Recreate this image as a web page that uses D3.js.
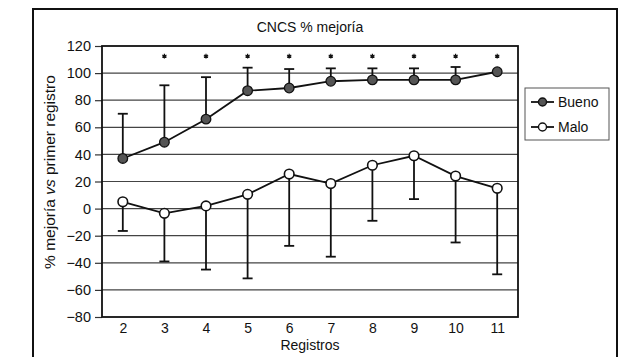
<!DOCTYPE html>
<html><head><meta charset="utf-8">
<script src="https://cdn.jsdelivr.net/npm/d3@7"></script>
<style>body{margin:0;background:#fff}svg{display:block}text{font-family:"Liberation Sans",Arial,sans-serif;fill:#111}</style>
</head><body>
<svg id="c" width="622" height="357"></svg>
<script>
const registros = [2,3,4,5,6,7,8,9,10,11];
const bueno = [37,49,66,87,89,94,95,95,95,101];
const buenoUpper = [70,91,97,104,103,103.5,103.5,103.5,104.5,null];
const malo = [5,-3.5,2,10.5,25.5,18.5,32,39,24,15];
const maloLower = [-16.5,-39,-45,-51.5,-27.5,-35.5,-9,7,-25,-48.5];
const stars = [3,4,5,6,7,8,9,10,11];
const starValue = 112.5;
const yTicks = [120,100,80,60,40,20,0,-20,-40,-60,-80];
const gridValues = [100,80,60,40,20,0,-20,-40,-60];
const title = "CNCS % mejoría";
const xTitle = "Registros";
const seriesNames = ["Bueno","Malo"];

const svg = d3.select("#c");
const L=102, R=518, T=46, B=317;
const x = d3.scaleLinear().domain([1.5,11.5]).range([L,R]);
const y = d3.scaleLinear().domain([-80,120]).range([B,T]);
const FONT = "Liberation Sans, Arial, sans-serif";

// outer frame
svg.append("rect").attr("x",33).attr("y",9).attr("width",584).attr("height",352)
  .attr("fill","none").attr("stroke","#111").attr("stroke-width",2);

// gridlines
svg.append("g").selectAll("line").data(gridValues).join("line")
  .attr("x1",L).attr("x2",R).attr("y1",d=>y(d)).attr("y2",d=>y(d))
  .attr("stroke","#444").attr("stroke-width",1.2);

// y axis
const yAxis = d3.axisLeft(y).tickValues(yTicks).tickSize(7).tickPadding(4)
  .tickFormat(d=> d<0 ? "\u2212"+Math.abs(d) : d);
const ga = svg.append("g").attr("transform",`translate(${L},0)`).call(yAxis);
ga.select(".domain").remove();
ga.selectAll("line").attr("stroke","#333").attr("stroke-width",1.2);
ga.selectAll("text").attr("font-size",14.5).attr("fill","#111").style("font-family",FONT);

// x axis labels
const xAxis = d3.axisBottom(x).tickValues(registros).tickSize(0).tickPadding(6).tickFormat(d3.format("d"));
const gx = svg.append("g").attr("transform",`translate(0,${B})`).call(xAxis);
gx.select(".domain").remove();
gx.selectAll("text").attr("font-size",14).attr("fill","#111").style("font-family",FONT);

// plot border
svg.append("rect").attr("x",L).attr("y",T).attr("width",R-L).attr("height",B-T)
  .attr("fill","none").attr("stroke","#111").attr("stroke-width",1.8);

// titles
svg.append("text").attr("x",(L+R)/2).attr("y",32).attr("text-anchor","middle").attr("font-size",14).text(title);
svg.append("text").attr("x",(L+R)/2).attr("y",350).attr("text-anchor","middle").attr("font-size",14).text(xTitle);
const yt = svg.append("text").attr("transform",`translate(55,172) rotate(-90)`).attr("text-anchor","middle").attr("font-size",15.5);
yt.append("tspan").text("% mejoría ");
yt.append("tspan").attr("font-style","italic").text("vs");
yt.append("tspan").text(" primer registro");

// error bars
const cap = 5;
const bErr = registros.map((r,i)=>({r, v:bueno[i], e:buenoUpper[i]})).filter(d=>d.e!==null);
const mErr = registros.map((r,i)=>({r, v:malo[i], e:maloLower[i]}));
const eg = svg.append("g").attr("stroke","#111").attr("stroke-width",1.8);
[...bErr, ...mErr].forEach(d=>{
  eg.append("line").attr("x1",x(d.r)).attr("x2",x(d.r)).attr("y1",y(d.v)).attr("y2",y(d.e));
  eg.append("line").attr("x1",x(d.r)-cap).attr("x2",x(d.r)+cap).attr("y1",y(d.e)).attr("y2",y(d.e));
});

// lines
const line = d3.line().x((d,i)=>x(registros[i])).y(d=>y(d));
svg.append("path").attr("d",line(bueno)).attr("fill","none").attr("stroke","#111").attr("stroke-width",1.8);
svg.append("path").attr("d",line(malo)).attr("fill","none").attr("stroke","#111").attr("stroke-width",1.8);

// markers
svg.append("g").selectAll("circle").data(bueno).join("circle")
  .attr("cx",(d,i)=>x(registros[i])).attr("cy",d=>y(d)).attr("r",4.8)
  .attr("fill","#555").attr("stroke","#111").attr("stroke-width",1.3);
svg.append("g").selectAll("circle").data(malo).join("circle")
  .attr("cx",(d,i)=>x(registros[i])).attr("cy",d=>y(d)).attr("r",4.8)
  .attr("fill","#fff").attr("stroke","#111").attr("stroke-width",1.6);

// significance stars
const starSym = d3.symbol().type(d3.symbolAsterisk).size(16);
svg.append("g").selectAll("path").data(stars).join("path")
  .attr("transform",d=>`translate(${x(d)},${y(starValue)})`).attr("d",starSym)
  .attr("fill","none").attr("stroke","#111").attr("stroke-width",1.2);

// legend
const lg = svg.append("g");
lg.append("rect").attr("x",525).attr("y",88).attr("width",84).attr("height",52)
  .attr("fill","#fff").attr("stroke","#555").attr("stroke-width",1);
seriesNames.forEach((name,i)=>{
  const yy = 102 + i*25;
  lg.append("line").attr("x1",531).attr("x2",554).attr("y1",yy).attr("y2",yy).attr("stroke","#111").attr("stroke-width",1.8);
  lg.append("circle").attr("cx",542.5).attr("cy",yy).attr("r",4)
    .attr("fill", i===0 ? "#555" : "#fff").attr("stroke","#111").attr("stroke-width",1.4);
  lg.append("text").attr("x",558).attr("y",yy+5).attr("font-size",14).text(name);
});
</script>
</body></html>
